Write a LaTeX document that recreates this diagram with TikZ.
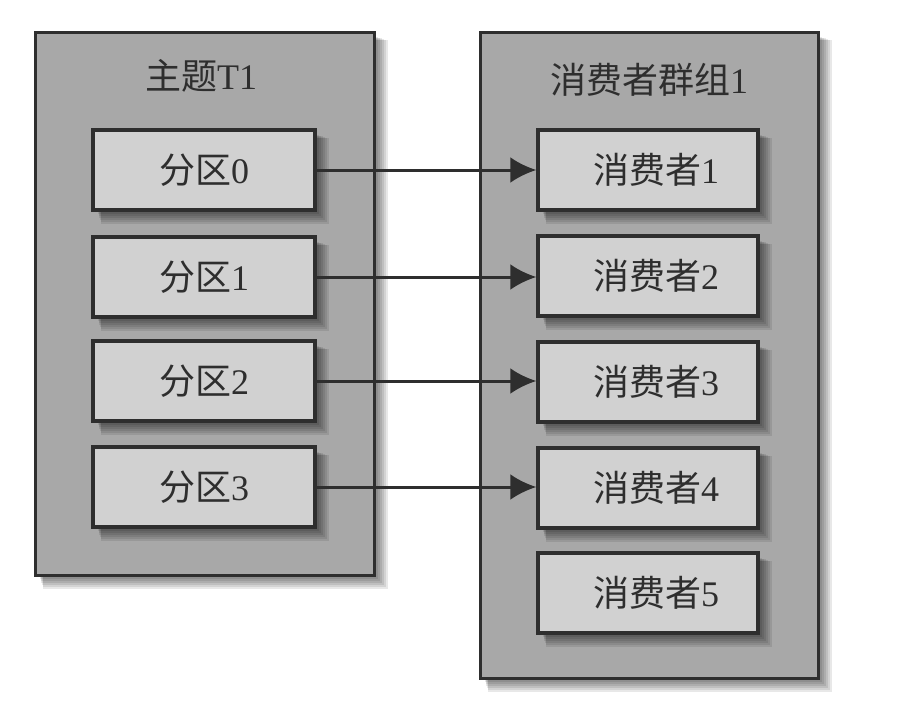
\documentclass[tikz,border=0pt]{standalone}
\usepackage{fontspec}
\setmainfont{Liberation Serif}
\newfontfamily\cjk{Noto Sans CJK SC}
\usetikzlibrary{arrows.meta}
\definecolor{outerfill}{gray}{0.66}
\definecolor{innerfill}{gray}{0.82}
\definecolor{ink}{gray}{0.18}
\tikzset{
  outerbox/.style={draw=ink, line width=3pt, fill=outerfill, rectangle, inner sep=0pt},
  innerbox/.style={draw=ink, line width=3.5pt, fill=innerfill, rectangle, inner sep=0pt,
    minimum height=80pt, font=\fontsize{36}{42}\selectfont, text=ink},
  titletext/.style={font=\fontsize{36}{42}\selectfont, text=ink, inner sep=0pt},
  link/.style={draw=ink, line width=3pt, -{Latex[length=26pt,width=26pt]}}
}
% blurred shadow of a rectangle given by corners
\newcommand{\softshadow}[4]{%
  \foreach \k in {0,2,...,14}{%
    \fill[black, opacity=0.09] (#1+4+\k*0.3,#2+4+\k*0.3) rectangle (#3+\k,#4+\k);
  }%
}
\begin{document}
\begin{tikzpicture}[x=1pt,y=-1pt]
\useasboundingbox (0,0) rectangle (900,720);
\fill[white] (0,0) rectangle (900,720);

% shadows of outer boxes
\softshadow{35}{32}{374}{575}
\softshadow{480}{32}{818}{678}

% outer boxes
\node[outerbox, minimum width=339pt, minimum height=543pt] (topic) at (204.5,303.5) {};
\node[outerbox, minimum width=338pt, minimum height=646pt] (group) at (649,355) {};

\node[titletext] (topictitle) at (201,76) {{\cjk 主题}T1};
\node[titletext] (grouptitle) at (649,80) {{\cjk 消费者群组}1};

% shadows of inner boxes
\foreach \y in {170,277,381,487}{
  \softshadow{93}{\y-40}{315}{\y+40}
}
\foreach \y in {170,276,382,488,593}{
  \softshadow{538}{\y-40}{758}{\y+40}
}

% partitions
\node[innerbox, minimum width=222pt] (p0) at (204,170) {{\cjk 分区}0};
\node[innerbox, minimum width=222pt] (p1) at (204,277) {{\cjk 分区}1};
\node[innerbox, minimum width=222pt] (p2) at (204,381) {{\cjk 分区}2};
\node[innerbox, minimum width=222pt] (p3) at (204,487) {{\cjk 分区}3};

% consumers
\node[innerbox, minimum width=220pt] (c1) at (648,170) {\hspace{16pt}{\cjk 消费者}1};
\node[innerbox, minimum width=220pt] (c2) at (648,276) {\hspace{16pt}{\cjk 消费者}2};
\node[innerbox, minimum width=220pt] (c3) at (648,382) {\hspace{16pt}{\cjk 消费者}3};
\node[innerbox, minimum width=220pt] (c4) at (648,488) {\hspace{16pt}{\cjk 消费者}4};
\node[innerbox, minimum width=220pt] (c5) at (648,593) {\hspace{16pt}{\cjk 消费者}5};

% connectors
\draw[link] (p0.east) -- (c1.west |- p0.east);
\draw[link] (p1.east) -- (c2.west |- p1.east);
\draw[link] (p2.east) -- (c3.west |- p2.east);
\draw[link] (p3.east) -- (c4.west |- p3.east);
\end{tikzpicture}
\end{document}
